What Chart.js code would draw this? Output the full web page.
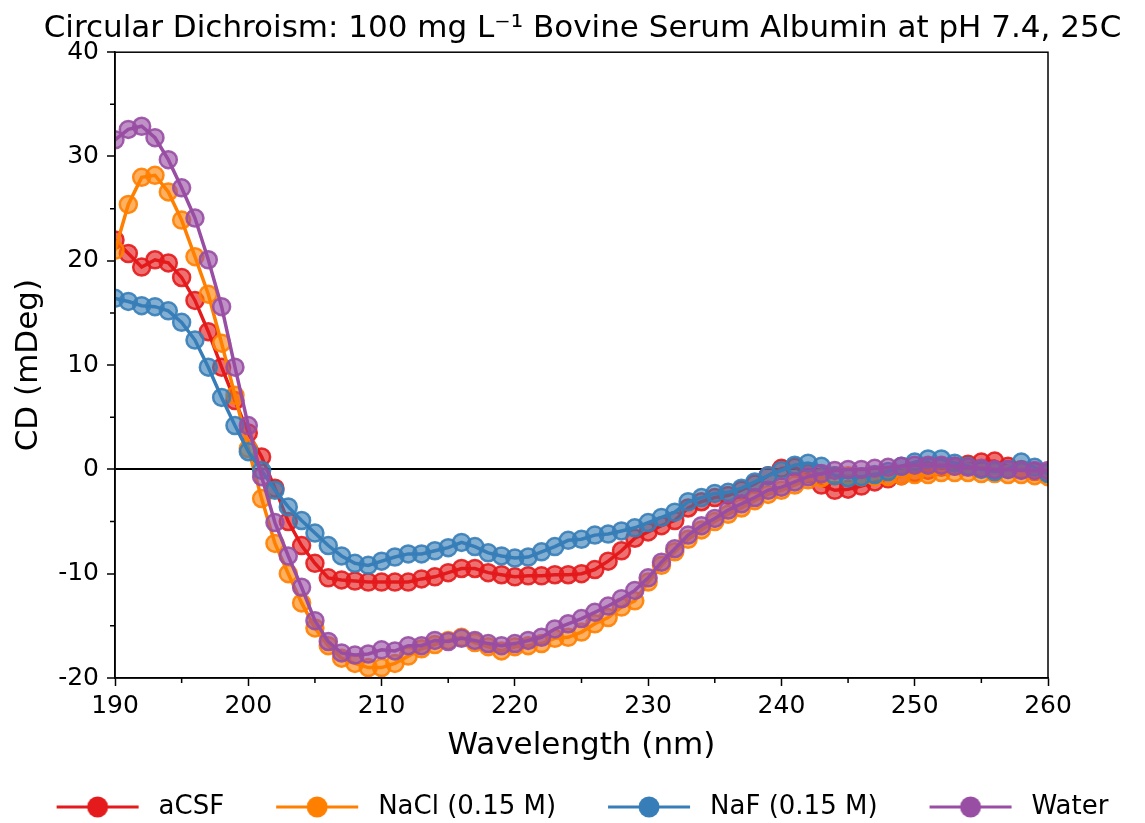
<!DOCTYPE html>
<html>

<head>
    <meta charset="UTF-8">
    <title>Circular Dichroism BSA</title>
    <script src="https://cdn.jsdelivr.net/npm/chart.js@4.4.1/dist/chart.umd.min.js"></script>
    <style>
        body { margin: 0; background: #fff; }
    </style>
</head>

<body>
    <canvas id="cd-chart" width="1145" height="823"></canvas>
</body>

<script>
    // wavelength (nm) and CD (mDeg)
    var wavelength = [190, 191, 192, 193, 194, 195, 196, 197, 198, 199,
        200, 201, 202, 203, 204, 205, 206, 207, 208, 209,
        210, 211, 212, 213, 214, 215, 216, 217, 218, 219,
        220, 221, 222, 223, 224, 225, 226, 227, 228, 229,
        230, 231, 232, 233, 234, 235, 236, 237, 238, 239,
        240, 241, 242, 243, 244, 245, 246, 247, 248, 249,
        250, 251, 252, 253, 254, 255, 256, 257, 258, 259, 260];

    var acsf = [22.0, 20.7, 19.4, 20.1, 19.8, 18.4, 16.2, 13.2, 9.8, 6.6,
        3.5, 1.2, -1.8, -5.0, -7.3, -9.0, -10.4, -10.6, -10.7, -10.8,
        -10.8, -10.8, -10.8, -10.5, -10.3, -9.9, -9.5, -9.5, -9.9, -10.1,
        -10.3, -10.2, -10.2, -10.1, -10.1, -10.0, -9.6, -8.8, -7.8, -6.6,
        -6.0, -5.4, -4.9, -3.7, -3.1, -2.7, -2.5, -2.0, -1.4, -0.6,
        0.1, 0.2, -0.4, -1.5, -2.0, -1.9, -1.6, -1.2, -0.9, -0.6,
        -0.3, -0.1, 0.2, 0.3, 0.5, 0.7, 0.8, 0.3, 0.0, -0.2, -0.3];

    var nacl = [21.0, 25.4, 28.0, 28.2, 26.6, 23.9, 20.4, 16.8, 12.1, 7.1,
        2.0, -2.8, -7.1, -10.0, -12.8, -15.2, -16.9, -18.1, -18.6, -19.0,
        -19.0, -18.6, -17.9, -17.2, -16.8, -16.4, -16.1, -16.6, -17.0, -17.4,
        -17.0, -16.9, -16.7, -16.2, -16.1, -15.6, -14.8, -14.2, -13.2, -12.6,
        -10.8, -9.2, -7.9, -6.7, -5.8, -5.0, -4.3, -3.7, -3.0, -2.4,
        -2.0, -1.5, -1.0, -0.8, -0.6, -0.6, -0.7, -0.7, -0.7, -0.6,
        -0.5, -0.5, -0.3, -0.3, -0.3, -0.4, -0.4, -0.5, -0.5, -0.6, -0.7];

    var naf = [16.4, 16.1, 15.7, 15.6, 15.2, 14.1, 12.4, 9.8, 6.9, 4.2,
        1.7, -0.1, -2.0, -3.6, -4.9, -6.1, -7.3, -8.3, -9.0, -9.2,
        -8.8, -8.4, -8.1, -8.1, -7.8, -7.5, -7.0, -7.4, -8.0, -8.3,
        -8.5, -8.4, -7.9, -7.4, -6.8, -6.7, -6.3, -6.2, -5.9, -5.6,
        -5.1, -4.6, -4.1, -3.1, -2.7, -2.3, -2.2, -1.8, -1.2, -0.6,
        -0.1, 0.4, 0.6, 0.3, -0.6, -0.8, -0.7, -0.5, -0.2, 0.3,
        0.7, 1.0, 1.0, 0.6, 0.3, 0.0, -0.2, 0.0, 0.7, 0.2, -0.4];

    var water = [31.6, 32.6, 32.9, 31.8, 29.7, 27.0, 24.1, 20.1, 15.6, 9.8,
        4.2, -0.7, -5.1, -8.3, -11.3, -14.5, -16.5, -17.6, -17.8, -17.7,
        -17.3, -17.4, -16.9, -16.9, -16.4, -16.5, -16.2, -16.4, -16.7, -16.9,
        -16.7, -16.4, -16.1, -15.3, -14.8, -14.3, -13.7, -13.1, -12.4, -11.6,
        -10.4, -8.9, -7.6, -6.3, -5.4, -4.7, -3.9, -3.3, -2.7, -2.0,
        -1.7, -1.2, -0.7, -0.4, -0.1, 0.0, 0.0, 0.1, 0.2, 0.3,
        0.4, 0.4, 0.4, 0.3, 0.2, 0.1, 0.0, 0.0, -0.1, -0.1, -0.1];

    var seriesNames = ['aCSF', 'NaCl (0.15 M)', 'NaF (0.15 M)', 'Water'];
    var seriesColors = ['#e41a1c', '#ff7f00', '#377eb8', '#984ea3'];
    var seriesValues = [acsf, nacl, naf, water];

    var FONT = "'DejaVu Sans', sans-serif";

    function rgba(hex, a) {
        var r = parseInt(hex.substr(1, 2), 16), g = parseInt(hex.substr(3, 2), 16), b = parseInt(hex.substr(5, 2), 16);
        return 'rgba(' + r + ',' + g + ',' + b + ',' + a + ')';
    }

    // legend icon: line with a dot, like matplotlib (left pad gives the item spacing)
    function legendIcon(color) {
        var c = document.createElement('canvas');
        c.width = 133; c.height = 24;
        var g = c.getContext('2d');
        g.strokeStyle = color;
        g.lineWidth = 3;
        g.beginPath(); g.moveTo(44, 12); g.lineTo(126, 12); g.stroke();
        g.fillStyle = color;
        g.beginPath(); g.arc(85, 12, 10.5, 0, Math.PI * 2); g.fill();
        return c;
    }
    var icons = seriesColors.map(legendIcon);

    var datasets = seriesValues.map(function (vals, i) {
        return {
            label: seriesNames[i],
            data: wavelength.map(function (w, j) { return { x: w, y: vals[j] }; }),
            borderColor: seriesColors[i],
            borderWidth: 3.5,
            pointRadius: 8.5,
            pointBorderWidth: 2.5,
            pointBackgroundColor: rgba(seriesColors[i], 0.62),
            pointBorderColor: rgba(seriesColors[i], 0.9),
            tension: 0,
            clip: 0,
            order: 4 - i
        };
    });

    var minorTicks = {
        id: 'minorTicks',
        afterLayout: function (chart) {
            // nudge the legend row left, the original sits a bit left of centre
            chart.legend.left -= 22;
            chart.legend.right -= 22;
        },
        afterDraw: function (chart) {
            var ctx = chart.ctx, area = chart.chartArea;
            var xs = chart.scales.x, ys = chart.scales.y;
            ctx.save();
            ctx.strokeStyle = '#000';
            ctx.lineWidth = 1.5;
            ctx.beginPath();
            xs.ticks.forEach(function (t) {
                if (t.value % 10 !== 0) {
                    var px = xs.getPixelForValue(t.value);
                    ctx.moveTo(px, area.bottom); ctx.lineTo(px, area.bottom + 5);
                }
            });
            ys.ticks.forEach(function (t) {
                if (t.value % 10 !== 0) {
                    var py = ys.getPixelForValue(t.value);
                    ctx.moveTo(area.left, py); ctx.lineTo(area.left - 5, py);
                }
            });
            ctx.stroke();
            ctx.strokeRect(area.left, area.top, area.right - area.left, area.bottom - area.top);
            ctx.restore();
        }
    };

    var chart = new Chart(document.getElementById('cd-chart'), {
        type: 'line',
        data: { datasets: datasets },
        plugins: [minorTicks],
        options: {
            responsive: false,
            animation: false,
            devicePixelRatio: 1,
            layout: { padding: { left: 20, right: 0, top: 0, bottom: -7 } },
            plugins: {
                tooltip: { enabled: false },
                title: {
                    display: true,
                    text: 'Circular Dichroism: 100 mg L\u207B\u00B9 Bovine Serum Albumin at pH 7.4, 25C',
                    color: '#000',
                    font: { family: FONT, size: 31, weight: 'normal' },
                    padding: { top: 10, bottom: 5 }
                },
                legend: {
                    position: 'bottom',
                    labels: {
                        color: '#000',
                        font: { family: FONT, size: 26 },
                        usePointStyle: true,
                        pointStyleWidth: 133,
                        padding: 8,
                        sort: function (a, b) { return a.datasetIndex - b.datasetIndex; },
                        generateLabels: function (ch) {
                            var items = Chart.defaults.plugins.legend.labels.generateLabels(ch);
                            items.forEach(function (it) { it.pointStyle = icons[it.datasetIndex]; });
                            return items;
                        }
                    }
                }
            },
            scales: {
                x: {
                    type: 'linear',
                    min: 190,
                    max: 260,
                    afterFit: function (s) { s.height = 108; },
                    ticks: {
                        stepSize: 5,
                        color: '#000',
                        padding: 5,
                        maxRotation: 0,
                        autoSkip: false,
                        font: { family: FONT, size: 25 },
                        callback: function (v) { return v % 10 === 0 ? v : ''; }
                    },
                    grid: {
                        drawOnChartArea: false,
                        tickLength: 8,
                        tickWidth: 1.5,
                        tickColor: function (c) { return c.tick && c.tick.value % 10 === 0 ? '#000' : 'rgba(0,0,0,0)'; }
                    },
                    border: { color: '#000', width: 1.5 },
                    title: {
                        display: true,
                        text: 'Wavelength (nm)',
                        color: '#000',
                        font: { family: FONT, size: 31 },
                        padding: { top: 0, bottom: 21 }
                    }
                },
                y: {
                    min: -20,
                    max: 40,
                    afterFit: function (s) { s.width = 95; },
                    ticks: {
                        stepSize: 5,
                        color: '#000',
                        padding: 8,
                        autoSkip: false,
                        font: { family: FONT, size: 25 },
                        callback: function (v) { return v % 10 === 0 ? v : ''; }
                    },
                    grid: {
                        drawOnChartArea: true,
                        color: function (c) { return c.tick && c.tick.value === 0 ? '#000' : 'rgba(0,0,0,0)'; },
                        lineWidth: 2,
                        tickLength: 8,
                        tickWidth: 1.5,
                        tickColor: function (c) { return c.tick && c.tick.value % 10 === 0 ? '#000' : 'rgba(0,0,0,0)'; }
                    },
                    border: { color: '#000', width: 1.5 },
                    title: {
                        display: true,
                        text: 'CD (mDeg)',
                        color: '#000',
                        font: { family: FONT, size: 31 },
                        padding: { top: -10, bottom: 0 }
                    }
                },
                // empty right-hand strip, keeps room for the last x label like the original margin
                yr: {
                    position: 'right',
                    display: true,
                    afterFit: function (s) { s.width = 97; },
                    ticks: { display: false },
                    grid: { display: false, drawTicks: false },
                    border: { display: false }
                }
            }
        }
    });
</script>

</html>
